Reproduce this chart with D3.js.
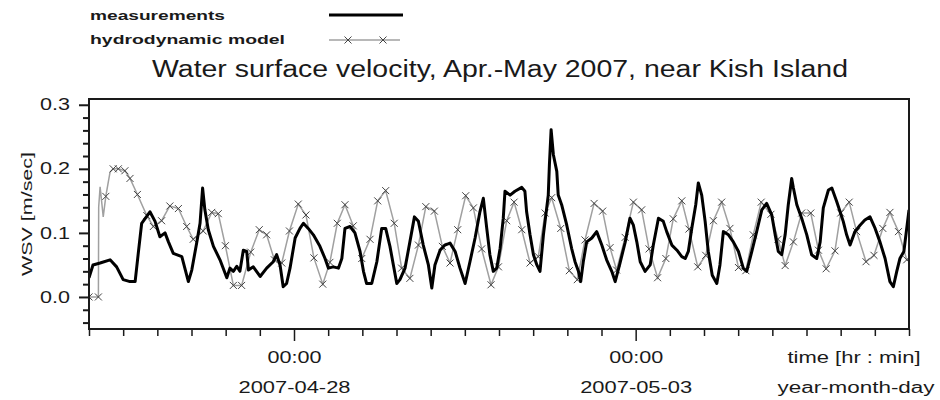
<!DOCTYPE html>
<html>
<head>
<meta charset="utf-8">
<script src="https://cdn.jsdelivr.net/npm/d3@7"></script>
<style>
  body { margin: 0; background: #fff; }
  svg { font-family: "Liberation Sans", Arial, sans-serif; }
</style>
</head>
<body>
<svg id="chart" width="940" height="400"></svg>
<script>
// hours after 2007-04-25 00:00 and measured velocity [m/s]
const measHours = [0, 1.4, 3.9, 7.4, 9.7, 12.0, 14.4, 16.2, 17.3, 18.5, 21.4, 23.2, 24.9, 26.7, 27.9, 29.6,
  32.6, 34.9, 36.1, 37.8, 39.0, 39.9, 40.7, 41.9, 43.7, 46.0, 48.4, 49.5, 50.7, 51.9, 53.0, 54.2,
  55.4, 56.0, 57.7, 60.1, 62.4, 64.7, 65.9, 67.1, 68.2, 69.4, 70.6, 72.4, 74.1, 75.3, 77.0, 78.8,
  81.1, 82.9, 84.1, 85.8, 87.6, 88.8, 89.9, 91.7, 93.4, 95.2, 96.4, 97.5, 99.3, 101.1, 102.8, 104.2,
  105.7, 106.9, 108.1, 109.2, 111.0, 112.7, 114.3, 115.7, 117.4, 119.2, 120.4, 121.5, 123.3, 125.0, 126.8, 128.6,
  130.3, 132.1, 133.8, 135.6, 137.3, 138.5, 139.7, 140.8, 142.0, 143.2, 144.4, 145.5, 146.1, 147.9, 149.6, 152.0,
  153.1, 153.7, 154.9, 156.1, 157.3, 158.4, 159.6, 161.3, 161.7, 162.3, 163.1, 164.3, 164.8, 166.0, 167.8, 169.5,
  170.7, 171.9, 172.7, 173.6, 174.8, 176.6, 178.3, 180.1, 181.8, 183.6, 184.8, 186.5, 188.3, 190.0, 191.2, 192.4,
  193.6, 195.3, 197.1, 198.2, 200.0, 201.7, 202.9, 204.7, 206.5, 208.2, 209.4, 210.5, 211.7, 213.1, 214.0, 215.2,
  216.4, 217.5, 218.9, 220.5, 221.6, 222.8, 224.6, 226.3, 228.1, 229.8, 231.0, 232.8, 234.5, 236.3, 238.0, 239.8,
  241.0, 242.1, 243.3, 244.5, 245.6, 246.8, 247.4, 248.6, 250.3, 252.1, 253.8, 255.6, 256.8, 257.9, 259.7, 260.9,
  262.6, 263.8, 264.9, 266.1, 267.3, 269.0, 270.8, 272.5, 274.3, 276.1, 277.8, 279.6, 281.3, 282.5, 283.7, 284.8,
  286.2, 287.2, 288.0];
const measValues = [0.030, 0.050, 0.053, 0.058, 0.047, 0.027, 0.024, 0.024, 0.068, 0.115, 0.133, 0.118, 0.094, 0.100, 0.086, 0.068,
  0.063, 0.024, 0.042, 0.084, 0.115, 0.170, 0.136, 0.105, 0.079, 0.058, 0.030, 0.045, 0.040, 0.048, 0.040, 0.073,
  0.071, 0.042, 0.047, 0.032, 0.045, 0.055, 0.066, 0.050, 0.016, 0.021, 0.045, 0.092, 0.107, 0.115, 0.107, 0.097,
  0.079, 0.060, 0.045, 0.047, 0.045, 0.060, 0.107, 0.110, 0.100, 0.071, 0.040, 0.021, 0.021, 0.055, 0.107, 0.107,
  0.079, 0.050, 0.021, 0.027, 0.045, 0.086, 0.125, 0.118, 0.081, 0.050, 0.014, 0.050, 0.073, 0.081, 0.084, 0.071,
  0.045, 0.021, 0.055, 0.092, 0.133, 0.154, 0.107, 0.066, 0.040, 0.045, 0.076, 0.123, 0.165, 0.159, 0.165, 0.171,
  0.165, 0.133, 0.097, 0.066, 0.050, 0.040, 0.097, 0.159, 0.206, 0.261, 0.222, 0.196, 0.159, 0.144, 0.112, 0.076,
  0.055, 0.040, 0.024, 0.055, 0.086, 0.092, 0.102, 0.081, 0.058, 0.040, 0.024, 0.053, 0.085, 0.123, 0.112, 0.086,
  0.055, 0.040, 0.050, 0.081, 0.123, 0.118, 0.102, 0.081, 0.073, 0.063, 0.060, 0.071, 0.107, 0.144, 0.178, 0.159,
  0.118, 0.071, 0.034, 0.021, 0.050, 0.102, 0.097, 0.086, 0.071, 0.045, 0.040, 0.071, 0.102, 0.136, 0.146, 0.128,
  0.097, 0.071, 0.066, 0.097, 0.144, 0.185, 0.170, 0.144, 0.123, 0.097, 0.066, 0.060, 0.086, 0.139, 0.167, 0.170,
  0.149, 0.133, 0.118, 0.097, 0.081, 0.102, 0.112, 0.120, 0.125, 0.107, 0.086, 0.060, 0.024, 0.016, 0.040, 0.060,
  0.071, 0.107, 0.136];

// hydrodynamic model, 1 = drawn with a marker
const modelHours = [0, 3.3, 3.4, 3.9, 5.0, 5.9, 6.8, 7.4, 8.5, 10.3, 12.6, 14.4, 17.0, 20.3, 22.6, 25.5,
  28.4, 31.4, 34.3, 36.6, 40.1, 43.1, 45.4, 47.9, 50.7, 53.6, 56.8, 59.8, 62.4, 65.1, 67.7, 70.4,
  73.5, 76.2, 79.0, 82.1, 84.6, 87.2, 89.9, 92.8, 95.8, 98.7, 101.4, 104.2, 107.2, 109.8, 112.7, 115.7,
  118.3, 121.3, 124.1, 126.8, 129.5, 132.3, 135.0, 137.9, 141.2, 143.8, 146.7, 149.3, 152.0, 154.9, 157.8, 160.2,
  162.5, 165.7, 168.7, 171.5, 174.2, 177.4, 180.4, 183.0, 185.3, 188.3, 191.2, 194.1, 196.7, 199.7, 202.6, 205.2,
  208.2, 210.7, 213.8, 216.6, 219.3, 222.2, 225.1, 228.1, 230.7, 233.3, 236.1, 239.5, 242.0, 244.5, 247.4, 250.3,
  253.5, 256.2, 258.9, 262.0, 264.0, 267.0, 269.6, 272.9, 275.7, 278.8, 281.3, 284.3, 287.2, 288.0];
const modelValues = [0.000, 0.000, 0.140, 0.172, 0.125, 0.157, 0.180, 0.195, 0.200, 0.200, 0.197, 0.185, 0.160, 0.127, 0.110, 0.119,
  0.142, 0.138, 0.110, 0.090, 0.103, 0.132, 0.130, 0.080, 0.018, 0.018, 0.070, 0.105, 0.097, 0.058, 0.053, 0.103,
  0.145, 0.128, 0.061, 0.020, 0.054, 0.115, 0.144, 0.111, 0.060, 0.090, 0.150, 0.166, 0.115, 0.045, 0.029, 0.081,
  0.141, 0.134, 0.079, 0.053, 0.105, 0.158, 0.139, 0.075, 0.019, 0.047, 0.119, 0.148, 0.105, 0.053, 0.063, 0.131,
  0.155, 0.107, 0.041, 0.027, 0.089, 0.146, 0.134, 0.077, 0.042, 0.093, 0.148, 0.136, 0.075, 0.030, 0.060, 0.122,
  0.150, 0.106, 0.047, 0.065, 0.119, 0.148, 0.107, 0.046, 0.041, 0.097, 0.148, 0.129, 0.090, 0.049, 0.086, 0.131,
  0.131, 0.073, 0.044, 0.072, 0.131, 0.148, 0.102, 0.055, 0.065, 0.107, 0.132, 0.102, 0.058, 0.060];
const modelMarked = [1, 1, 0, 0, 0, 1, 0, 0, 1, 1, 1, 1, 1, 1, 1, 1,
  1, 1, 1, 1, 1, 1, 1, 1, 1, 1, 1, 1, 1, 1, 1, 1,
  1, 1, 1, 1, 1, 1, 1, 1, 1, 1, 1, 1, 1, 1, 1, 1,
  1, 1, 1, 1, 1, 1, 1, 1, 1, 1, 1, 1, 1, 1, 1, 1,
  1, 1, 1, 1, 1, 1, 1, 1, 1, 1, 1, 1, 1, 1, 1, 1,
  1, 1, 1, 1, 1, 1, 1, 1, 1, 1, 1, 1, 1, 1, 1, 1,
  1, 1, 1, 1, 1, 1, 1, 1, 1, 1, 1, 1, 1, 0];

const yMajor = [0.0, 0.1, 0.2, 0.3];
const xMajorDates = ['2007-04-28', '2007-05-03'];
const legendLabels = ['measurements', 'hydrodynamic model'];
const title = 'Water surface velocity, Apr.-May 2007, near Kish Island';

const svg = d3.select('#chart');
const pLeft = 89, pRight = 909, pTop = 99, pBottom = 329;
const ink = '#1a1a1a';
const start = new Date(2007, 3, 25);
const toDate = h => new Date(start.getTime() + h * 3600e3);

const x = d3.scaleTime()
  .domain([start, new Date(2007, 4, 7)])
  .range([pLeft, pRight]);
const y = d3.scaleLinear()
  .domain([-0.05, 0.309])
  .range([pBottom, pTop]);

const meas = measHours.map((h, i) => [toDate(h), measValues[i]]);
const model = modelHours.map((h, i) => [toDate(h), modelValues[i], modelMarked[i]]);

svg.append('clipPath').attr('id', 'plot-clip')
  .append('rect').attr('x', pLeft).attr('y', pTop)
  .attr('width', pRight - pLeft).attr('height', pBottom - pTop);

const line = d3.line().x(d => x(d[0])).y(d => y(d[1]));
const plot = svg.append('g').attr('clip-path', 'url(#plot-clip)');

// model
plot.append('path')
  .attr('d', line(model))
  .attr('fill', 'none')
  .attr('stroke', '#a0a0a0')
  .attr('stroke-width', 1.5);

const cross = 'M-3.5,-3.5L3.5,3.5M-3.5,3.5L3.5,-3.5';
plot.selectAll('.mk')
  .data(model.filter(d => d[2]))
  .enter().append('path')
  .attr('class', 'mk')
  .attr('transform', d => 'translate(' + x(d[0]) + ',' + y(d[1]) + ')')
  .attr('d', cross)
  .attr('stroke', '#444')
  .attr('stroke-width', 1);

// measurements
plot.append('path')
  .attr('d', line(meas))
  .attr('fill', 'none')
  .attr('stroke', '#000')
  .attr('stroke-width', 3)
  .attr('stroke-linejoin', 'round');

// frame
svg.append('rect')
  .attr('x', pLeft).attr('y', pTop)
  .attr('width', pRight - pLeft).attr('height', pBottom - pTop)
  .attr('fill', 'none')
  .attr('stroke', ink)
  .attr('stroke-width', 2);

// stretched text, the original uses a wide bitmap font
function label(sel, txt, size, len) {
  return sel.attr('font-size', size).attr('fill', ink)
    .attr('textLength', len).attr('lengthAdjust', 'spacingAndGlyphs').text(txt);
}

// y axis
const yMinor = d3.range(-0.04, 0.301, 0.02).filter(v => !yMajor.some(m => Math.abs(m - v) < 1e-6));
svg.append('g')
  .attr('transform', 'translate(' + pLeft + ',0)')
  .call(d3.axisLeft(y).tickValues(yMinor).tickSize(6).tickFormat(''))
  .call(g => g.select('.domain').remove())
  .call(g => g.selectAll('line').attr('stroke', ink).attr('stroke-width', 2));
svg.append('g')
  .attr('transform', 'translate(' + pLeft + ',0)')
  .call(d3.axisLeft(y).tickValues(yMajor).tickSize(10).tickPadding(9).tickFormat(d3.format('.1f')))
  .call(g => g.select('.domain').remove())
  .call(g => g.selectAll('line').attr('stroke', ink).attr('stroke-width', 2))
  .call(g => g.selectAll('text').each(function(d) {
    label(d3.select(this), d3.format('.1f')(d), 16, 30)
      .attr('font-family', '"Liberation Sans", Arial, sans-serif');
  }));

label(svg.append('text')
  .attr('transform', 'translate(27,' + (pTop + pBottom) / 2 + ') rotate(-90)')
  .attr('text-anchor', 'middle')
  .attr('dy', '0.35em'), 'WSV [m/sec]', 15, 124);

// x axis
const parse = d3.timeParse('%Y-%m-%d');
const majorDates = xMajorDates.map(parse);
const minorDates = d3.timeHour.every(12).range(x.domain()[0], d3.timeHour.offset(x.domain()[1], 1))
  .filter(d => !majorDates.some(m => +m === +d));
svg.append('g')
  .attr('transform', 'translate(0,' + pBottom + ')')
  .call(d3.axisBottom(x).tickValues(minorDates).tickSize(7).tickFormat(''))
  .call(g => g.select('.domain').remove())
  .call(g => g.selectAll('line').attr('stroke', ink).attr('stroke-width', 1.5));
const xMaj = svg.append('g')
  .attr('transform', 'translate(0,' + pBottom + ')')
  .call(d3.axisBottom(x).tickValues(majorDates).tickSize(12).tickFormat(''))
  .call(g => g.select('.domain').remove())
  .call(g => g.selectAll('line').attr('stroke', ink).attr('stroke-width', 1.5));

xMaj.selectAll('.tick').each(function(d) {
  const t = d3.select(this);
  label(t.append('text').attr('y', 34).attr('text-anchor', 'middle'), d3.timeFormat('%H:%M')(d), 16, 54);
  label(t.append('text').attr('y', 64).attr('text-anchor', 'middle'), d3.timeFormat('%Y-%m-%d')(d), 16, 112);
});

label(svg.append('text').attr('x', 854).attr('y', pBottom + 34).attr('text-anchor', 'middle'),
  'time [hr : min]', 16, 133);
label(svg.append('text').attr('x', 856).attr('y', pBottom + 64).attr('text-anchor', 'middle'),
  'year-month-day', 16, 157);

// title
label(svg.append('text').attr('x', 152).attr('y', 77), title, 23, 696);

// legend
label(svg.append('text').attr('x', 90).attr('y', 20).attr('font-weight', 'bold'), legendLabels[0], 13, 135);
label(svg.append('text').attr('x', 90).attr('y', 44).attr('font-weight', 'bold'), legendLabels[1], 13, 195);
svg.append('line').attr('x1', 329).attr('x2', 403).attr('y1', 15).attr('y2', 15)
  .attr('stroke', '#000').attr('stroke-width', 3);
svg.append('line').attr('x1', 329).attr('x2', 400).attr('y1', 40).attr('y2', 40)
  .attr('stroke', '#a0a0a0').attr('stroke-width', 1.5);
svg.selectAll('.lmk').data([348, 383]).enter().append('path')
  .attr('transform', d => 'translate(' + d + ',40)')
  .attr('d', cross).attr('stroke', '#444').attr('stroke-width', 1);
</script>
</body>
</html>
